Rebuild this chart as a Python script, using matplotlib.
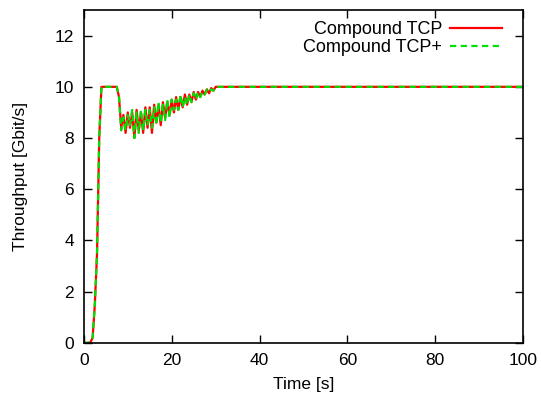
import matplotlib
matplotlib.use("Agg")
import matplotlib.pyplot as plt

plt.rcParams["font.family"] = ["Liberation Sans", "DejaVu Sans"]

# time [s] and throughput [Gbit/s]
t_ctcp = [0, 1, 1.5, 2, 2.5, 3, 3.5, 4, 5, 6, 7, 7.5,
          8.0, 8.5, 9.0, 9.5, 10.0, 10.5, 11.0, 11.5, 12.0, 12.5, 13.0, 13.5,
          14.0, 14.5, 15.0, 15.5, 16.0, 16.5, 17.0, 17.5, 18.0, 18.5, 19.0,
          19.5, 20.0, 20.5, 21.0, 21.5, 22.0, 22.5, 23.0, 23.5, 24.0, 24.5,
          25.0, 25.5, 26.0, 26.5, 27.0, 27.5, 28.0, 28.5, 29.0, 29.5, 30.0,
          31.0, 100]
thr_ctcp = [0, 0, 0.02, 0.2, 1.5, 3.5, 8.0, 10, 10, 10, 10, 10,
            9.6, 8.4, 8.9, 8.2, 9.0, 8.4, 9.0, 8.0, 9.1, 8.3, 9.0, 8.2,
            9.2, 8.4, 9.2, 8.2, 9.3, 8.6, 9.3, 8.5, 9.4, 8.8, 9.4,
            8.9, 9.5, 9.0, 9.6, 9.1, 9.6, 9.2, 9.7, 9.3, 9.7, 9.4,
            9.8, 9.5, 9.8, 9.6, 9.85, 9.7, 9.9, 9.75, 9.95, 9.85, 10,
            10, 10]

t_ctcp_plus = t_ctcp
thr_ctcp_plus = [0, 0, 0.02, 0.2, 1.5, 3.5, 8.0, 10, 10, 10, 10, 10,
                 9.6, 8.3, 8.8, 8.3, 8.9, 8.5, 9.1, 8.0, 9.0, 8.2, 9.1, 8.3,
                 9.1, 8.5, 9.1, 8.4, 9.2, 8.5, 9.4, 8.6, 9.3, 8.7, 9.5,
                 8.8, 9.5, 9.1, 9.5, 9.1, 9.7, 9.2, 9.6, 9.3, 9.7, 9.4,
                 9.75, 9.5, 9.8, 9.6, 9.8, 9.7, 9.9, 9.8, 9.9, 9.85, 10,
                 10, 10]

fig = plt.figure(figsize=(5.41, 4.01), dpi=100)
ax = fig.add_axes([0.155, 0.145, 0.812, 0.83])

ax.plot(t_ctcp, thr_ctcp, color="#ff0000", lw=1.6, label="Compound TCP")
ax.plot(t_ctcp_plus, thr_ctcp_plus, color="#00e000", lw=1.6,
        linestyle=(0, (2.8, 2)), label="Compound TCP+")

ax.set_xlim(0, 100)
ax.set_ylim(0, 13)
ax.set_xticks(range(0, 101, 20))
ax.set_yticks(range(0, 13, 2))
ax.tick_params(direction="in", top=True, right=True, length=6,
               width=1, labelsize=12.5, pad=7)
for s in ax.spines.values():
    s.set_linewidth(1.2)

ax.set_xlabel("Time [s]", fontsize=12.5)
ax.set_ylabel("Throughput [Gbit/s]", fontsize=12.5)
ax.xaxis.set_label_coords(0.5, -0.102)
ax.yaxis.set_label_coords(-0.128, 0.5)

ax.legend(loc="upper right", bbox_to_anchor=(0.98, 1.005), frameon=False,
          markerfirst=False, fontsize=13, handlelength=2.85,
          borderaxespad=0.3, labelspacing=0.05, handletextpad=0.45,
          borderpad=0.4)

fig.savefig("out.png", dpi=100)
